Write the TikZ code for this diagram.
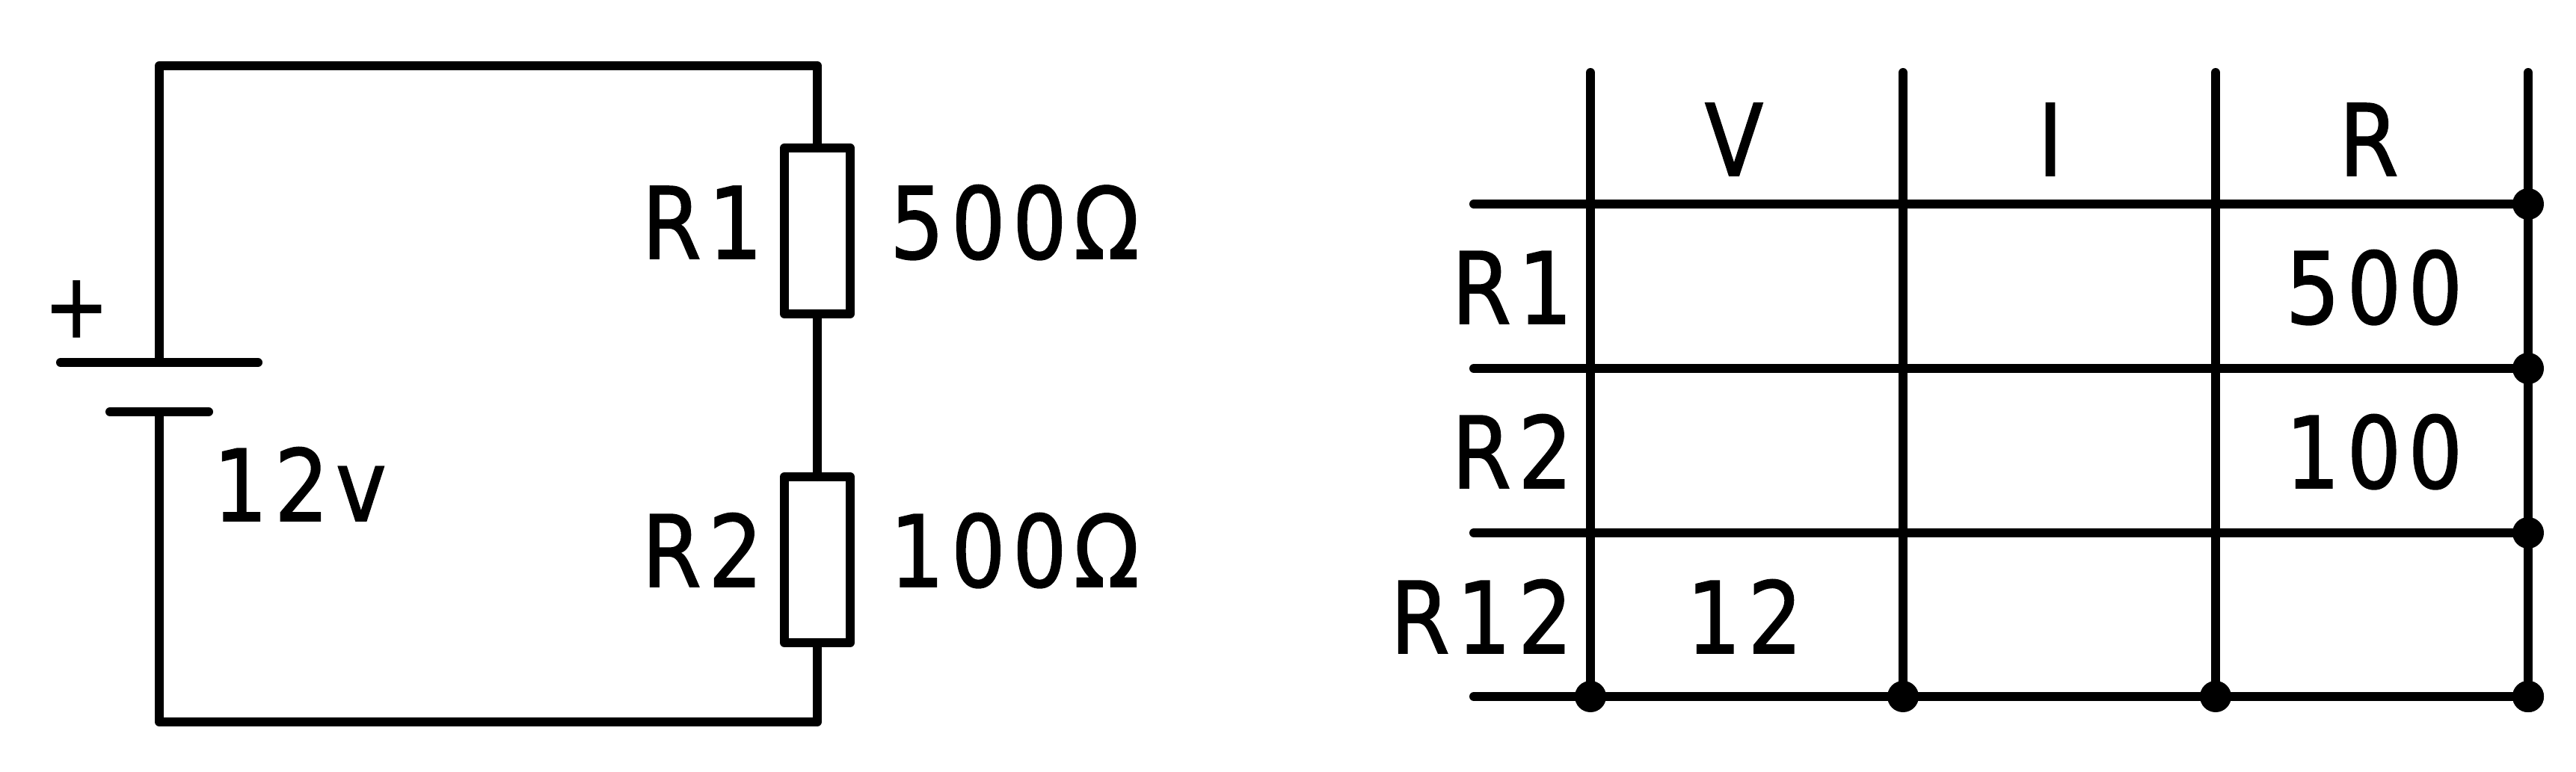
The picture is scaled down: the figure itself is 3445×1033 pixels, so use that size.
\documentclass[tikz,border=0pt]{standalone}
\usepackage{fontspec}
\newfontfamily\stick[FakeStretch=0.86,LetterSpace=7,FakeBold=1.2]{DejaVu Sans}
\tikzset{
  wire/.style={line width=12pt,line cap=round,line join=round,black},
  lab/.style={inner sep=0pt,outer sep=0pt,font=\stick\fontsize{133}{133}\selectfont,text=black},
  pluslab/.style={lab,font=\stick\fontsize{120}{120}\selectfont},
  resistor/.style={draw=black,line width=12pt,line join=round,fill=white,minimum width=88pt,minimum height=222pt,inner sep=0pt,outer sep=0pt},
  dot/.style={circle,fill=black,inner sep=0pt,outer sep=0pt,minimum size=42pt}
}
\begin{document}
\begin{tikzpicture}[x=1pt,y=-1pt]
\useasboundingbox (0,0) rectangle (3445,1033);
% circuit
\node[resistor] (r1) at (1093,309) {};
\node[resistor] (r2) at (1093,749) {};
\coordinate (tl) at (213,88);
\coordinate (tr) at (1093,88);
\coordinate (bl) at (213,966);
\coordinate (br) at (1093,966);
\coordinate (pos) at (213,485);
\coordinate (neg) at (213,551);
\coordinate (posl) at (81,485);
\coordinate (posr) at (345,485);
\coordinate (negl) at (147,551);
\coordinate (negr) at (279,551);
\draw[wire] (pos) -- (tl) -- (tr) -- (r1.north);
\draw[wire] (r1.south) -- (r2.north);
\draw[wire] (r2.south) -- (br) -- (bl) -- (neg);
\draw[wire] (posl) -- (posr);
\draw[wire] (negl) -- (negr);
\node[pluslab,anchor=base west] (plus) at (59,451) {+};
\node[lab,anchor=base west] (tv) at (285,697) {12v};
\node[lab,anchor=base east] (tr1) at (1020,346) {R1};
\node[lab,anchor=base west] (tv1) at (1190,346) {500Ω};
\node[lab,anchor=base east] (tr2) at (1020,785) {R2};
\node[lab,anchor=base west] (tv2) at (1190,785) {100Ω};
% table
\foreach \n/\x in {a/2127,b/2545,c/2963,d/3381}{
  \coordinate (top\n) at (\x,97);
  \node[dot] (bot\n) at (\x,932) {};
  \draw[wire] (top\n) -- (bot\n.center);
}
\foreach \n/\y in {p/273,q/493,s/713,t/932}{
  \coordinate (left\n) at (1971,\y);
  \node[dot] (right\n) at (3381,\y) {};
  \draw[wire] (left\n) -- (right\n.center);
}
\node[lab,anchor=base] (hv) at (2319,235) {V};
\node[lab,anchor=base] (hi) at (2742,235) {I};
\node[lab,anchor=base] (hr) at (3168,235) {R};
\node[lab,anchor=base east] (rr1) at (2103,433) {R1};
\node[lab,anchor=base east] (rr2) at (2103,653) {R2};
\node[lab,anchor=base east] (rr12) at (2103,874) {R12};
\node[lab,anchor=base] (v500) at (3175,433) {500};
\node[lab,anchor=base] (v100) at (3175,653) {100};
\node[lab,anchor=base] (v12) at (2333,874) {12};
\end{tikzpicture}
\end{document}
